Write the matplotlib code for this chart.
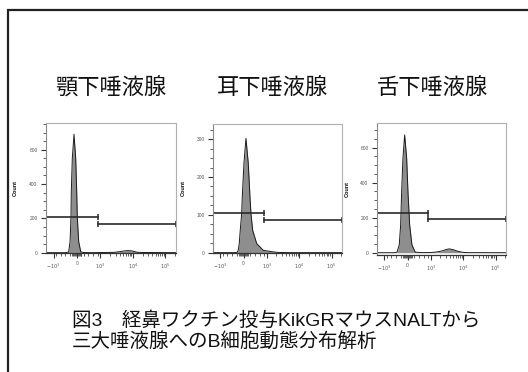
import numpy as np
import matplotlib
matplotlib.use("Agg")
import matplotlib.pyplot as plt
from matplotlib.patches import Rectangle
from matplotlib.ticker import FixedLocator, MultipleLocator

plt.rcParams['font.family'] = ['Liberation Sans', 'DejaVu Sans']

# ---------------- data ----------------
panel_titles = ["顎下唾液腺", "耳下唾液腺", "舌下唾液腺"]
caption_line1 = "図3　経鼻ワクチン投与KikGRマウスNALTから"
caption_line2 = "三大唾液腺へのB細胞動態分布解析"
y_label = "Count"

x_tick_values = [-1000, 0, 1000, 10000, 100000]
x_tick_labels = [r"$-10^3$", "0", r"$10^3$", r"$10^4$", r"$10^5$"]

# panel 1 (submandibular)
p1_x = [-1700, -500, -350, -290, -250, -236, -193, -120, -47, -4, 21, 82, 170, 300,
        600, 1500, 2800, 4000, 5500, 7100, 9500, 12000, 14000, 20000, 210000]
p1_counts = [0, 0, 3, 64, 208, 356, 550, 690, 550, 356, 208, 64, 5, 1,
             0, 1, 2, 6, 10, 12, 10, 5, 2, 1, 0]
p1_yticks = [0, 200, 400, 600]
p1_ylim = (-2, 756)
p1_gate_left = 208
p1_gate_right = 167
p1_gate_split = 900

# panel 2 (parotid)
p2_x = [-1700, -400, -273, -230, -187, -143, -82, -56, 17, 104, 204, 278, 321, 395,
        569, 855, 1600, 2230, 5000, 210000]
p2_counts = [0, 0, 1, 6, 24, 59, 103, 147, 236, 302, 236, 147, 103, 59,
             24, 6, 2, 0.5, 0, 0]
p2_yticks = [0, 100, 200, 300]
p2_ylim = (-1, 340)
p2_gate_left = 105
p2_gate_right = 87.5
p2_gate_split = 885

# panel 3 (sublingual)
p3_x = [-1700, -600, -460, -360, -300, -256, -200, -126, -39, 17, 91, 191, 334, 600,
        1000, 1500, 2200, 3000, 3750, 5000, 7000, 10000, 14000, 210000]
p3_counts = [0, 0, 3, 44, 158, 349, 539, 673, 539, 349, 158, 44, 3, 0.5,
             1, 4, 10, 18, 22, 17, 8, 2, 0.5, 0]
p3_yticks = [0, 200, 400, 600]
p3_ylim = (-13, 741)
p3_gate_left = 229
p3_gate_right = 191
p3_gate_split = 872

x_min, x_max = -1700, 210000

panels = [
    (p1_x, p1_counts, p1_yticks, p1_ylim, p1_gate_left, p1_gate_right, p1_gate_split),
    (p2_x, p2_counts, p2_yticks, p2_ylim, p2_gate_left, p2_gate_right, p2_gate_split),
    (p3_x, p3_counts, p3_yticks, p3_ylim, p3_gate_left, p3_gate_right, p3_gate_split),
]

# ---------------- layout ----------------
W, H = 528, 372
fig = plt.figure(figsize=(W / 100, H / 100), dpi=100)
fig.patch.set_facecolor("white")

def px_rect(left, top, right, bottom):
    return [left / W, 1 - bottom / H, (right - left) / W, (bottom - top) / H]

axes_px = [(46, 123, 176, 253), (213, 124, 342, 253), (377, 123, 506, 255)]
title_x = [110.8, 273, 432.5]

cjk = ['Noto Sans CJK JP', 'DejaVu Sans']
cap_font = ['Liberation Sans', 'Noto Sans CJK JP', 'DejaVu Sans']

minor_x = (list(np.arange(-900, -100, 200)) + list(np.arange(-200, 201, 40))
           + list(np.arange(300, 901, 200))
           + [2000, 3000, 4000, 5000, 6000, 7000, 8000, 9000]
           + [20000, 30000, 40000, 50000, 60000, 70000, 80000, 90000, 200000])

for (xs, cs, yt, yl, gl, gr, gs), rect, tx, title in zip(panels, axes_px, title_x, panel_titles):
    ax = fig.add_axes(px_rect(*rect))
    ax.set_xscale('symlog', linthresh=1000, linscale=0.64)
    ax.fill_between(xs, cs, 0, color="#8e8e8e", linewidth=0)
    ax.plot(xs, cs, color="#1a1a1a", lw=0.7)
    ax.set_xlim(x_min, x_max)
    ax.set_ylim(*yl)

    # gates
    ax.plot([x_min, gs], [gl, gl], color="#2a2a2a", lw=1.2)
    ax.plot([gs], [gl], marker="|", color="#2a2a2a", ms=5, mew=1.1)
    ax.plot([gs, x_max], [gr, gr], color="#2a2a2a", lw=1.2, clip_on=False)
    ax.plot([gs, x_max], [gr, gr], marker="|", ls="none", color="#2a2a2a", ms=5, mew=1.1,
            clip_on=False)

    ax.xaxis.set_major_locator(FixedLocator(x_tick_values))
    ax.set_xticklabels(x_tick_labels)
    ax.xaxis.set_minor_locator(FixedLocator(minor_x))
    ax.set_yticks(yt)
    ax.yaxis.set_minor_locator(MultipleLocator((yt[1] - yt[0]) / 4))

    ax.tick_params(axis='both', which='major', direction='out', length=3.5, width=0.8,
                   labelsize=3.5, colors="#333333", pad=2.5)
    ax.tick_params(axis='both', which='minor', direction='out', length=2, width=0.6,
                   colors="#444444")
    for lab in ax.get_xticklabels() + ax.get_yticklabels():
        lab.set_color("#555555")

    for s in ['top', 'right']:
        ax.spines[s].set_color("#b0b0b0")
        ax.spines[s].set_linewidth(0.8)
    ax.spines['left'].set_color("#888888")
    ax.spines['left'].set_linewidth(0.8)
    ax.spines['bottom'].set_color("#333333")
    ax.spines['bottom'].set_linewidth(0.9)

    ax.set_ylabel(y_label, fontsize=4, fontweight='bold', color="#111111")
    ax.yaxis.set_label_coords(-0.215, 0.5)

    fig.text(tx / W, 1 - 88 / H, title, fontsize=16, family=cjk,
             ha='center', va='center', color="#111111")

# caption
fig.text(71.7 / W, 1 - 321 / H, caption_line1, fontsize=14, family=cap_font,
         ha='left', va='center', color="#111111")
fig.text(71.7 / W, 1 - 341 / H, caption_line2, fontsize=14, family=cap_font,
         ha='left', va='center', color="#111111")

# outer frame (extends beyond right and bottom edges)
fig.patches.append(Rectangle((8 / W, -0.2), 1.3, 1.2 - 10 / H, transform=fig.transFigure,
                             fill=False, edgecolor="#222222", linewidth=1.6))

fig.savefig("out.png", dpi=100, facecolor="white")
